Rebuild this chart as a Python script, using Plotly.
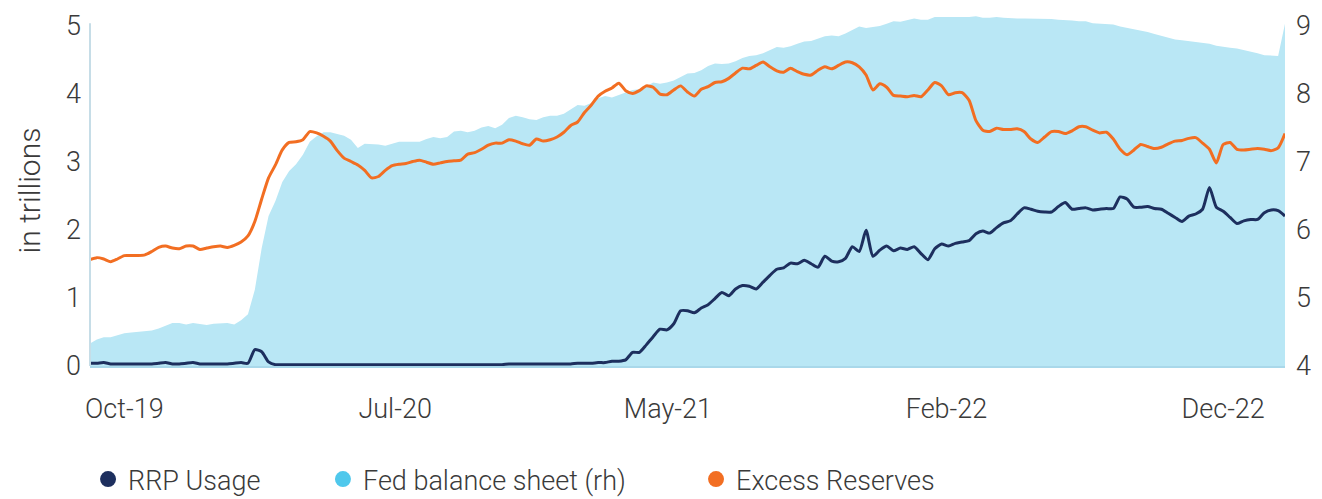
import pandas as pd
import plotly.graph_objects as go

# Weekly observations
DATES = pd.date_range("2019-09-25", periods=175, freq="7D")

RRP_USAGE = [
    0.04, 0.04, 0.05, 0.03, 0.03, 0.03, 0.03, 0.03, 0.03, 0.03,
    0.04, 0.05, 0.03, 0.03, 0.04, 0.05, 0.03, 0.03, 0.03, 0.03,
    0.03, 0.04, 0.05, 0.04, 0.24, 0.21, 0.06, 0.02, 0.02, 0.02,
    0.02, 0.02, 0.02, 0.02, 0.02, 0.02, 0.02, 0.02, 0.02, 0.02,
    0.02, 0.02, 0.02, 0.02, 0.02, 0.02, 0.02, 0.02, 0.02, 0.02,
    0.02, 0.02, 0.02, 0.02, 0.02, 0.02, 0.02, 0.02, 0.02, 0.02,
    0.02, 0.03, 0.03, 0.03, 0.03, 0.03, 0.03, 0.03, 0.03, 0.03,
    0.03, 0.04, 0.04, 0.04, 0.05, 0.05, 0.07, 0.07, 0.09, 0.20,
    0.20, 0.31, 0.43, 0.54, 0.53, 0.62, 0.81, 0.81, 0.78, 0.85,
    0.90, 0.99, 1.08, 1.03, 1.13, 1.18, 1.17, 1.13, 1.23, 1.33,
    1.42, 1.44, 1.51, 1.50, 1.55, 1.50, 1.45, 1.61, 1.54, 1.53,
    1.58, 1.75, 1.68, 1.99, 1.61, 1.70, 1.76, 1.69, 1.73, 1.71,
    1.75, 1.65, 1.56, 1.72, 1.79, 1.76, 1.80, 1.82, 1.84, 1.94,
    1.98, 1.95, 2.03, 2.10, 2.13, 2.23, 2.32, 2.30, 2.27, 2.26,
    2.26, 2.34, 2.40, 2.30, 2.31, 2.32, 2.29, 2.30, 2.31, 2.31,
    2.48, 2.45, 2.33, 2.33, 2.34, 2.31, 2.30, 2.24, 2.18, 2.12,
    2.20, 2.23, 2.30, 2.62, 2.33, 2.27, 2.18, 2.09, 2.13, 2.15,
    2.15, 2.25, 2.29, 2.28, 2.20,
]

FED_BALANCE_SHEET = [
    4.33, 4.39, 4.42, 4.42, 4.45, 4.48, 4.49, 4.50, 4.50, 4.52,
    4.55, 4.59, 4.63, 4.63, 4.61, 4.63, 4.61, 4.60, 4.62, 4.63,
    4.63, 4.61, 4.67, 4.76, 5.12, 5.73, 6.20, 6.42, 6.70, 6.86,
    6.96, 7.10, 7.29, 7.37, 7.43, 7.43, 7.40, 7.38, 7.32, 7.20,
    7.26, 7.26, 7.25, 7.23, 7.26, 7.29, 7.29, 7.29, 7.29, 7.33,
    7.36, 7.34, 7.36, 7.44, 7.45, 7.43, 7.45, 7.50, 7.52, 7.49,
    7.54, 7.64, 7.67, 7.65, 7.62, 7.61, 7.65, 7.67, 7.67, 7.70,
    7.77, 7.83, 7.82, 7.86, 7.93, 7.96, 7.94, 7.98, 8.02, 8.05,
    8.06, 8.10, 8.16, 8.14, 8.16, 8.19, 8.24, 8.29, 8.30, 8.34,
    8.40, 8.44, 8.43, 8.44, 8.47, 8.52, 8.55, 8.56, 8.59, 8.64,
    8.68, 8.67, 8.69, 8.73, 8.76, 8.77, 8.80, 8.84, 8.85, 8.84,
    8.88, 8.93, 8.98, 8.96, 8.97, 8.99, 9.02, 9.06, 9.05, 9.07,
    9.10, 9.08, 9.08, 9.12, 9.12, 9.11, 9.11, 9.11, 9.12, 9.13,
    9.11, 9.11, 9.12, 9.11, 9.10, 9.10, 9.10, 9.10, 9.10, 9.09,
    9.09, 9.08, 9.08, 9.07, 9.06, 9.06, 9.03, 9.02, 9.01, 9.01,
    8.98, 8.96, 8.95, 8.93, 8.90, 8.87, 8.84, 8.81, 8.79, 8.78,
    8.77, 8.76, 8.75, 8.73, 8.70, 8.68, 8.67, 8.66, 8.64, 8.61,
    8.59, 8.56, 8.55, 8.55, 9.02,
]

EXCESS_RESERVES = [
    1.56, 1.59, 1.57, 1.53, 1.57, 1.62, 1.62, 1.62, 1.63, 1.68,
    1.74, 1.76, 1.73, 1.72, 1.76, 1.76, 1.71, 1.73, 1.75, 1.76,
    1.74, 1.77, 1.82, 1.91, 2.12, 2.45, 2.76, 2.95, 3.17, 3.28,
    3.29, 3.32, 3.44, 3.42, 3.37, 3.30, 3.16, 3.05, 3.00, 2.95,
    2.87, 2.76, 2.78, 2.87, 2.94, 2.96, 2.97, 3.00, 3.02, 2.99,
    2.96, 2.98, 3.00, 3.01, 3.02, 3.11, 3.13, 3.18, 3.24, 3.27,
    3.27, 3.32, 3.30, 3.26, 3.24, 3.33, 3.30, 3.32, 3.36, 3.43,
    3.53, 3.58, 3.72, 3.83, 3.96, 4.03, 4.08, 4.15, 4.04, 4.00,
    4.04, 4.11, 4.09, 3.99, 3.98, 4.05, 4.11, 4.02, 3.96, 4.06,
    4.10, 4.16, 4.17, 4.22, 4.30, 4.37, 4.36, 4.41, 4.46, 4.39,
    4.33, 4.31, 4.37, 4.32, 4.28, 4.27, 4.34, 4.39, 4.36, 4.41,
    4.46, 4.45, 4.39, 4.27, 4.05, 4.14, 4.09, 3.97, 3.96, 3.95,
    3.97, 3.95, 4.05, 4.16, 4.11, 3.98, 4.01, 4.01, 3.90, 3.60,
    3.46, 3.44, 3.49, 3.47, 3.47, 3.48, 3.44, 3.33, 3.28, 3.36,
    3.44, 3.44, 3.41, 3.45, 3.51, 3.51, 3.46, 3.42, 3.43, 3.33,
    3.18, 3.10, 3.17, 3.25, 3.22, 3.19, 3.21, 3.26, 3.30, 3.31,
    3.34, 3.35, 3.27, 3.18, 2.98, 3.25, 3.28, 3.18, 3.17, 3.18,
    3.19, 3.18, 3.16, 3.20, 3.41,
]

TICK_DATES = ["2019-10-30", "2020-08-01", "2021-05-06", "2022-02-14", "2022-11-23"]
TICK_LABELS = ["Oct-19", "Jul-20", "May-21", "Feb-22", "Dec-22"]

LEFT_TICKS = [0, 1, 2, 3, 4, 5]
RIGHT_TICKS = [4, 5, 6, 7, 8, 9]

NAVY = "#1d2f5e"
ORANGE = "#f26e22"
AREA = "#b9e7f5"
CYAN = "#4fc8ec"
TEXT = "#3a3a3a"
FONT = "Roboto"

fig = go.Figure()

fig.add_trace(go.Scatter(
    x=DATES, y=FED_BALANCE_SHEET, yaxis="y", mode="lines",
    line=dict(width=0, color=AREA), fill="tozeroy", fillcolor=AREA,
    showlegend=False, hoverinfo="skip",
))
fig.add_trace(go.Scatter(
    x=DATES, y=EXCESS_RESERVES, yaxis="y2", mode="lines",
    line=dict(width=3, color=ORANGE, shape="spline", smoothing=0.6),
    showlegend=False,
))
fig.add_trace(go.Scatter(
    x=DATES, y=RRP_USAGE, yaxis="y2", mode="lines",
    line=dict(width=3, color=NAVY, shape="spline", smoothing=0.6),
    showlegend=False,
))

# legend entries (circle markers)
legend_items = [("RRP Usage", NAVY, "legend"),
                ("Fed balance sheet (rh)", CYAN, "legend2"),
                ("Excess Reserves", ORANGE, "legend3")]
for name, col, lg in legend_items:
    fig.add_trace(go.Scatter(
        x=[None], y=[None], yaxis="y2", mode="markers", name=name,
        marker=dict(symbol="circle", size=16, color=col), legend=lg,
    ))

legend_font = dict(family=FONT, size=27, color=TEXT, weight=300)
common_leg = dict(orientation="h", yanchor="middle", y=0.039, yref="container",
                  xref="container", xanchor="left", font=legend_font,
                  bgcolor="rgba(0,0,0,0)")

tick_font = dict(family=FONT, size=27, color=TEXT, weight=300)

fig.update_layout(
    width=1322, height=499,
    margin=dict(l=90, r=37, t=15, b=133, autoexpand=False),
    paper_bgcolor="white", plot_bgcolor="white",
    font=dict(family=FONT, color=TEXT, weight=300),
    xaxis=dict(
        range=[DATES[0], DATES[-1]], tickvals=TICK_DATES, ticktext=TICK_LABELS,
        showgrid=False, zeroline=False, ticks="", ticklabelstandoff=18,
        tickfont=tick_font, automargin=False,
        showline=True, linecolor="#a9d8ea", linewidth=1.5,
    ),
    yaxis=dict(
        side="right", range=[4, 9.15], tickvals=RIGHT_TICKS,
        showgrid=False, zeroline=False, ticks="", ticklabelstandoff=10,
        tickfont=tick_font, automargin=False,
    ),
    yaxis2=dict(
        overlaying="y", side="left", range=[0, 5.15], tickvals=LEFT_TICKS,
        showgrid=False, zeroline=False, ticks="", ticklabelstandoff=8,
        tickfont=tick_font, automargin=False,
        title=dict(text="in trillions", standoff=16,
                   font=dict(family=FONT, size=30, color=TEXT, weight=300)),
    ),
    legend=dict(x=0.0666, **common_leg),
    legend2=dict(x=0.2443, **common_leg),
    legend3=dict(x=0.5265, **common_leg),
    shapes=[dict(type="line", xref="paper", yref="y2", x0=0, x1=0, y0=0, y1=5.03,
                 line=dict(color="#c6dde7", width=2), layer="above")],
)

fig.write_html("out.html", config={"displayModeBar": False},
               post_script="document.body.style.margin='0px';")
